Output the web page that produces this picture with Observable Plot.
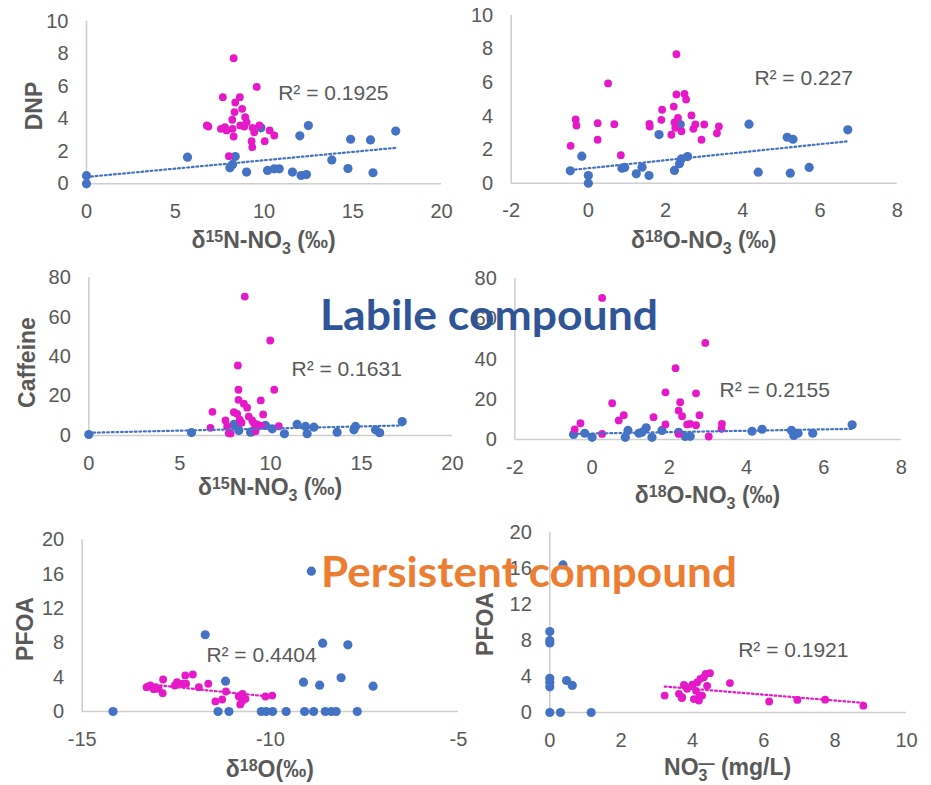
<!DOCTYPE html>
<html><head><meta charset="utf-8">
<script src="https://cdn.jsdelivr.net/npm/d3@7"></script>
<script src="https://cdn.jsdelivr.net/npm/@observablehq/plot@0.6"></script>
<style>
body{margin:0;background:#fff;}
#chart{position:relative;width:931px;height:785px;overflow:hidden;background:#fff;}
#overlay{position:absolute;left:0;top:0;pointer-events:none;}
</style></head><body><div id="chart"></div><script>
// ---------- data ----------
// Panel 1: DNP vs d15N-NO3
const n15Blue1 = [0,0,5.69,8.38,8.23,8.08,9.02,9.83,10.2,10.58,10.86,11.6,12.09,12.39,12.02,12.5,13.82,14.73,14.88,16.0,16.14,17.42];
const dnpBlue1 = [0.5,0,1.64,1.68,1.19,0.98,0.72,3.44,0.82,0.92,0.92,0.72,0.51,0.57,2.95,3.58,1.47,0.94,2.74,2.7,0.68,3.24];
const n15Mag1 = [8.29,9.59,7.68,8.64,8.38,8.77,8.34,8.94,8.21,9.02,6.78,6.87,7.57,7.8,7.89,8.23,8.66,8.89,9.36,9.45,9.74,10.32,10.58,8.29,9.3,10.04,9.34,8.02];
const dnpMag1 = [7.72,5.96,5.33,5.33,5.0,4.61,4.41,4.10,3.94,3.79,3.59,3.52,3.38,3.48,3.28,3.38,3.59,3.52,3.44,3.17,3.59,3.28,2.97,2.91,2.62,2.62,2.25,1.70];
const trendX1 = [0,17.42], trendY1 = [0.42,2.21];

// Panel 2: DNP vs d18O-NO3
const o18Blue2 = [-0.47,-0.17,0.0,0.0,0.87,0.94,1.24,1.39,1.57,1.83,2.23,2.36,2.41,2.57,2.38,4.16,4.4,5.15,5.3,5.23,5.72,6.72];
const dnpBlue2 = [0.74,1.61,0.46,0,0.89,0.94,0.56,0.95,0.46,2.9,0.76,1.16,1.45,1.59,3.5,3.52,0.66,2.74,2.62,0.6,0.94,3.18];
const o18Mag2 = [2.28,0.51,2.28,2.49,2.53,2.21,1.91,1.89,2.32,2.67,-0.33,-0.31,0.24,0.24,0.67,1.58,1.59,2.23,2.25,2.41,2.15,2.72,2.77,3.0,2.93,3.33,3.38,-0.46,0.84];
const dnpMag2 = [7.69,5.95,5.29,5.33,4.99,4.57,4.38,3.78,3.9,4.04,3.8,3.44,3.58,2.59,3.52,3.54,3.38,3.62,3.3,3.1,2.89,3.24,3.5,3.5,2.59,2.98,3.38,2.23,1.67];
const trendX2 = [-0.47,6.72], trendY2 = [0.78,2.5];

// Panel 3: Caffeine vs d15N-NO3
const n15Blue3 = [0,5.65,7.98,8.16,8.25,8.9,9.72,10.09,10.76,11.46,11.92,12.01,12.38,13.66,14.58,14.67,15.77,16.0,17.24,9.0];
const cafBlue3 = [0.5,1.5,5.6,4.6,2.5,1.7,5.1,3.4,0.9,5.6,4.6,0.9,4.2,1.7,2.9,4.6,2.9,1.4,7.1,2.0];
const n15Mag3 = [8.58,9.98,8.2,8.23,10.2,8.23,8.53,8.71,9.46,6.8,7.98,8.16,8.8,8.99,9.59,7.52,7.61,8.3,9.08,9.26,9.17,6.69,7.7,10.45,9.17,7.8,9.5,8.4];
const cafMag3 = [70.5,48.2,35.5,23.2,23.2,18.1,16.1,14.1,17.8,12.0,11.8,11.0,9.6,7.6,10.7,7.6,4.6,8.0,6.2,5.6,3.4,3.9,1.2,4.7,2.2,1.0,5.0,6.5];
const trendX3 = [0,17.24], trendY3 = [1.4,5.1];

// Panel 4: Caffeine vs d18O-NO3
const o18Blue4 = [-0.48,-0.19,0.0,0.86,0.93,1.21,1.29,1.4,1.55,1.81,2.24,2.41,2.54,4.14,4.4,5.16,5.22,5.33,5.71,6.73];
const cafBlue4 = [2.5,3.1,1.1,1.1,4.5,3.1,3.6,5.8,1.1,4.5,3.6,1.5,1.6,4.1,5.1,4.5,2.0,3.1,3.1,7.3];
const o18Mag4 = [0.26,2.93,2.16,1.9,2.69,0.52,2.28,2.24,2.33,0.82,0.69,1.59,2.78,1.9,-0.3,-0.45,0.26,2.46,2.54,2.69,2.24,3.02,3.36,3.35];
const cafMag4 = [70.5,48.1,35.5,23.5,23.0,18.1,18.6,14.4,11.6,12.1,9.5,11.1,12.1,7.5,8.1,5.0,2.8,7.5,7.8,7.1,2.8,1.5,7.8,5.3];
const trendX4 = [-0.48,6.73], trendY4 = [2.8,5.3];

// Panel 5: PFOA vs d18O
const o18Blue5 = [-14.18,-11.39,-11.1,-11.73,-11.19,-10.24,-10.11,-9.94,-9.58,-9.09,-8.85,-9.12,-8.91,-8.69,-8.61,-8.54,-8.38,-8.25,-8.12,-7.94,-7.69,-7.27];
const pfoaBlue5 = [0,0,0,8.94,3.53,0,0,0,0,0,0,3.42,16.35,3.07,7.96,0,0,0,3.93,7.77,0,2.95];
const o18Mag5 = [-13.29,-13.19,-13.05,-12.97,-12.86,-12.85,-12.54,-12.48,-12.34,-12.26,-12.24,-12.06,-11.9,-11.65,-11.46,-11.28,-11.18,-10.84,-10.8,-10.74,-10.66,-10.13,-9.95,-13.1,-10.75];
const pfoaMag5 = [2.83,3.03,2.83,2.64,2.13,3.73,3.03,3.42,3.23,4.2,3.23,4.31,2.83,3.23,1.17,1.4,2.33,1.75,0.82,2.06,1.48,1.75,1.86,2.6,1.2];
const trendX5 = [-13.3,-9.95], trendY5 = [3.2,1.7];

// Panel 6: PFOA vs NO3-
const no3Blue6 = [0,0,0,0,0,0,0,0.37,0.47,0.63,0.3,1.16];
const pfoaBlue6 = [8.98,7.98,7.72,3.8,3.36,2.85,0,16.37,3.55,3.0,0,0];
const no3Mag6 = [3.22,3.62,3.71,3.76,3.85,3.99,4.04,4.13,4.18,4.27,4.22,4.32,4.41,4.49,4.37,5.05,6.15,6.94,7.72,8.79,3.7,3.8,4.1,4.2,4.0];
const pfoaMag6 = [1.88,2.07,1.7,3.07,2.63,2.96,1.49,3.33,1.33,1.88,3.73,3.91,2.96,4.36,4.29,3.26,1.22,1.4,1.42,0.76,1.6,2.9,2.4,1.9,3.1];
const trendX6 = [3.22,8.79], trendY6 = [2.88,1.07];

const r2Texts = ["R² = 0.1925","R² = 0.227","R² = 0.1631","R² = 0.2155","R² = 0.4404","R² = 0.1921"];
const ticksA = [0,5,10,15,20], ticksB = [-2,0,2,4,6,8], ticksC = [-15,-10,-5], ticksD = [0,2,4,6,8,10];
const yTicksA = [0,2,4,6,8,10], yTicksB = [0,20,40,60,80], yTicksC = [0,4,8,12,16,20];

// ---------- style ----------
const BLUE = "#4472C4", MAG = "#E619C8", AXIS = "#CFCFCF", TXT = "#595959";
const FONT = "'Liberation Sans', Arial, sans-serif";

const toPts = (xs, ys) => xs.map((x, i) => ({x, y: ys[i]}));

function drawPanel(c) {
  const svg = Plot.plot({
    width: c.w, height: c.h,
    marginTop: c.m[0], marginRight: c.m[1], marginBottom: c.m[2], marginLeft: c.m[3],
    style: {background: "transparent", color: TXT, fontFamily: FONT, fontSize: "20px", overflow: "visible"},
    x: {domain: c.xDomain},
    y: {domain: c.yDomain},
    marks: [
      Plot.ruleY([0], {stroke: AXIS, strokeWidth: 1.6}),
      Plot.ruleX([c.xDomain[0]], {stroke: AXIS, strokeWidth: 1.6}),
      Plot.axisX({ticks: c.xTicks, tickSize: 0, tickPadding: 20, tickFormat: d => String(d), label: null, fontSize: 20}),
      Plot.axisY({ticks: c.yTicks, tickSize: 0, tickPadding: 18, tickFormat: d => String(d), label: null, fontSize: 20}),
      Plot.dot(toPts(c.bx, c.by), {x: "x", y: "y", r: 4.6, fill: BLUE}),
      Plot.dot(toPts(c.mx, c.my), {x: "x", y: "y", r: 3.9, fill: MAG}),
      Plot.line(toPts(c.tx, c.ty), {x: "x", y: "y", stroke: c.tc, strokeWidth: 2.2, strokeDasharray: "1.8,2.8"}),
      Plot.text([{x: c.r2x, y: c.r2y, t: c.r2}], {x: "x", y: "y", text: "t", textAnchor: "start", fontSize: 21, fill: TXT})
    ]
  });
  svg.style.position = "absolute";
  svg.style.left = c.left + "px";
  svg.style.top = c.top + "px";
  const s = d3.select(svg);
  const plotCx = (c.m[3] + c.w - c.m[1]) / 2;
  const xt = s.append("text").attr("x", plotCx).attr("y", c.xtY).attr("text-anchor", "middle")
    .attr("font-family", FONT).attr("font-weight", "bold").attr("font-size", 23).attr("fill", TXT);
  let shift = 0;
  c.xTitle.forEach(([txt, kind, dx]) => {
    const t = xt.append("tspan").text(txt);
    const target = kind === "sup" ? -6 : kind === "sub" ? 6 : 0;
    if (kind === "sup" || kind === "sub") t.attr("font-size", 16);
    t.attr("dy", target - shift);
    if (dx) t.attr("dx", dx);
    shift = target;
  });
  if (c.yTitle) {
    s.append("text").attr("transform", `translate(${c.ytX},${c.ytY}) rotate(-90)`)
      .attr("text-anchor", "middle").attr("font-family", FONT).attr("font-weight", "bold")
      .attr("font-size", 23).attr("fill", TXT).text(c.yTitle);
  }
  document.getElementById("chart").appendChild(svg);
}

const tN15 = [["δ"],["15","sup"],["N-NO"],["3","sub"],[" (‰)"]];
const tO18N = [["δ"],["18","sup"],["O-NO"],["3","sub"],[" (‰)"]];

drawPanel({left: 0, top: 0, w: 460, h: 260, m: [20.7, 19, 76.7, 86], xDomain: [0, 20], yDomain: [0, 10],
  xTicks: ticksA, yTicks: yTicksA, bx: n15Blue1, by: dnpBlue1, mx: n15Mag1, my: dnpMag1,
  tx: trendX1, ty: trendY1, tc: BLUE, r2: r2Texts[0], r2x: 10.8, r2y: 5.57,
  xTitle: tN15, xtY: 248, yTitle: "DNP", ytX: 41.5, ytY: 106});

drawPanel({left: 460, top: 0, w: 471, h: 260, m: [15, 34.3, 77.3, 50.7], xDomain: [-2, 8], yDomain: [0, 10],
  xTicks: ticksB, yTicks: yTicksA, bx: o18Blue2, by: dnpBlue2, mx: o18Mag2, my: dnpMag2,
  tx: trendX2, ty: trendY2, tc: BLUE, r2: r2Texts[1], r2x: 4.3, r2y: 6.28,
  xTitle: tO18N, xtY: 248});

drawPanel({left: 0, top: 260, w: 460, h: 250, m: [17.3, 8.1, 75, 88.3], xDomain: [0, 20], yDomain: [0, 80],
  xTicks: ticksA, yTicks: yTicksB, bx: n15Blue3, by: cafBlue3, mx: n15Mag3, my: cafMag3,
  tx: trendX3, ty: trendY3, tc: BLUE, r2: r2Texts[2], r2x: 11.15, r2y: 33.8,
  xTitle: tN15, xtY: 235, yTitle: "Caffeine", ytX: 35, ytY: 102.5});

drawPanel({left: 460, top: 260, w: 471, h: 250, m: [18.3, 30.3, 71, 54.3], xDomain: [-2, 8], yDomain: [0, 80],
  xTicks: ticksB, yTicks: yTicksB, bx: o18Blue4, by: cafBlue4, mx: o18Mag4, my: cafMag4,
  tx: trendX4, ty: trendY4, tc: BLUE, r2: r2Texts[3], r2x: 3.3, r2y: 24.4,
  xTitle: tO18N, xtY: 243});

drawPanel({left: 0, top: 520, w: 460, h: 265, m: [19.3, 2, 74, 81.7], xDomain: [-15, -5], yDomain: [0, 20],
  xTicks: ticksC, yTicks: yTicksC, bx: o18Blue5, by: pfoaBlue5, mx: o18Mag5, my: pfoaMag5,
  tx: trendX5, ty: trendY5, tc: MAG, r2: r2Texts[4], r2x: -11.7, r2y: 6.53,
  xTitle: [["δ"],["18","sup"],["O(‰)"]], xtY: 257, yTitle: "PFOA", ytX: 33.3, ytY: 109});

drawPanel({left: 460, top: 520, w: 471, h: 265, m: [11.7, 25, 73, 89.3], xDomain: [0, 10], yDomain: [0, 20],
  xTicks: ticksD, yTicks: yTicksC, bx: no3Blue6, by: pfoaBlue6, mx: no3Mag6, my: pfoaMag6,
  tx: trendX6, ty: trendY6, tc: MAG, r2: r2Texts[5], r2x: 5.28, r2y: 6.95,
  xTitle: [["NO"],["3","sub"],["—","sup",-9],[" (mg/L)"]], xtY: 255, yTitle: "PFOA", ytX: 33.3, ytY: 104});

// overlay labels
const ov = d3.select("#chart").append("svg").attr("id", "overlay").attr("width", 931).attr("height", 785);
ov.append("text").attr("x", 320).attr("y", 330).attr("textLength", 338).attr("lengthAdjust", "spacingAndGlyphs")
  .attr("font-family", "Lato, 'Open Sans', sans-serif").attr("font-weight", 700).attr("font-size", 42)
  .attr("fill", "#2F5597").text("Labile compound");
ov.append("text").attr("x", 321).attr("y", 587).attr("textLength", 416).attr("lengthAdjust", "spacingAndGlyphs")
  .attr("font-family", "Lato, 'Open Sans', sans-serif").attr("font-weight", 700).attr("font-size", 42)
  .attr("fill", "#ED7D31").text("Persistent compound");
</script></body></html>
